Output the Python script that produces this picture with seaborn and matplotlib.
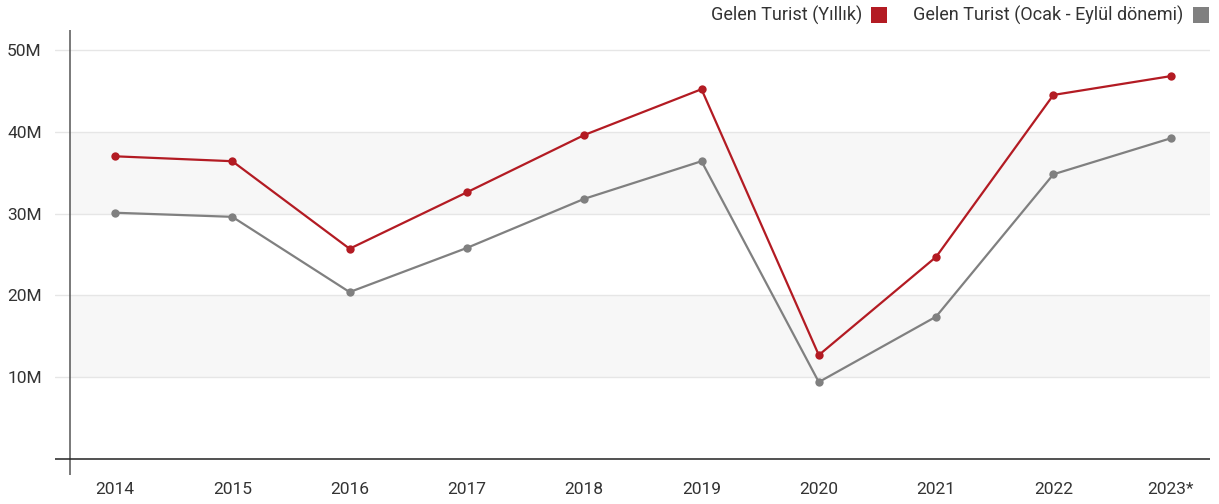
import matplotlib
matplotlib.use("Agg")
import matplotlib.pyplot as plt
from matplotlib.patches import Rectangle
import seaborn as sns
import pandas as pd

years = ["2014", "2015", "2016", "2017", "2018", "2019", "2020", "2021", "2022", "2023*"]
annual = [37.0, 36.4, 25.7, 32.6, 39.6, 45.2, 12.7, 24.7, 44.5, 46.8]
jan_sep = [30.1, 29.6, 20.4, 25.8, 31.8, 36.4, 9.4, 17.4, 34.8, 39.2]
series_names = ["Gelen Turist (Yıllık)", "Gelen Turist (Ocak - Eylül dönemi)"]
y_ticks = [10, 20, 30, 40, 50]
y_labels = ["10M", "20M", "30M", "40M", "50M"]

RED = "#B31B23"
GREY = "#808080"
TEXT = "#333333"

sns.set_theme(style="white")
plt.rcParams["font.family"] = ["Roboto", "DejaVu Sans"]

df = pd.DataFrame({
    "idx": list(range(len(years))) * 2,
    "value": annual + jan_sep,
    "series": [series_names[0]] * len(years) + [series_names[1]] * len(years),
})

fig = plt.figure(figsize=(12.19, 5.04), dpi=100)
ax = fig.add_axes([55 / 1219, 1 - 475 / 504, (1210 - 55) / 1219, (475 - 30) / 504])

x_left = -0.5115
x_axis = -0.3836
x_right = 9.335
ax.set_xlim(x_left, x_right)
ax.set_ylim(-1.96, 52.44)

# alternating bands
frac_axis = (x_axis - x_left) / (x_right - x_left)
for lo, hi in [(10, 20), (30, 40)]:
    ax.axhspan(lo, hi, xmin=frac_axis, xmax=1, color="#f7f7f7", lw=0, zorder=0)
for t in y_ticks:
    ax.axhline(t, color="#e6e6e6", lw=1, zorder=0.5)

sns.lineplot(data=df, x="idx", y="value", hue="series",
             palette=[RED, GREY], hue_order=series_names,
             marker="o", markersize=6, markeredgewidth=0, linewidth=1.6,
             legend=False, ax=ax, zorder=3)

ax.axvline(x_axis, color="#555555", lw=1.1, zorder=4)
ax.axhline(0, color="#222222", lw=1.1, zorder=4)

for s in ax.spines.values():
    s.set_visible(False)

ax.set_xticks(range(len(years)))
ax.set_xticklabels(years)
ax.set_yticks(y_ticks)
ax.set_yticklabels(y_labels)
ax.tick_params(axis="both", length=0, labelsize=12.5, colors=TEXT)
ax.tick_params(axis="x", pad=5)
ax.tick_params(axis="y", pad=9.5)
ax.set_xlabel("")
ax.set_ylabel("")

# legend row at top right
W, H = 1219, 504
def px(x, y):
    return x / W, 1 - y / H

fig.text(*px(862, 15), series_names[0], ha="right", va="center", fontsize=13, color=TEXT)
fig.patches.append(Rectangle(px(871, 23), 16 / W, 16 / H, transform=fig.transFigure,
                             facecolor=RED, edgecolor="none"))
fig.text(*px(1183, 15), series_names[1], ha="right", va="center", fontsize=13, color=TEXT)
fig.patches.append(Rectangle(px(1193, 23), 16 / W, 16 / H, transform=fig.transFigure,
                             facecolor=GREY, edgecolor="none"))

fig.savefig("out.png", dpi=100)
